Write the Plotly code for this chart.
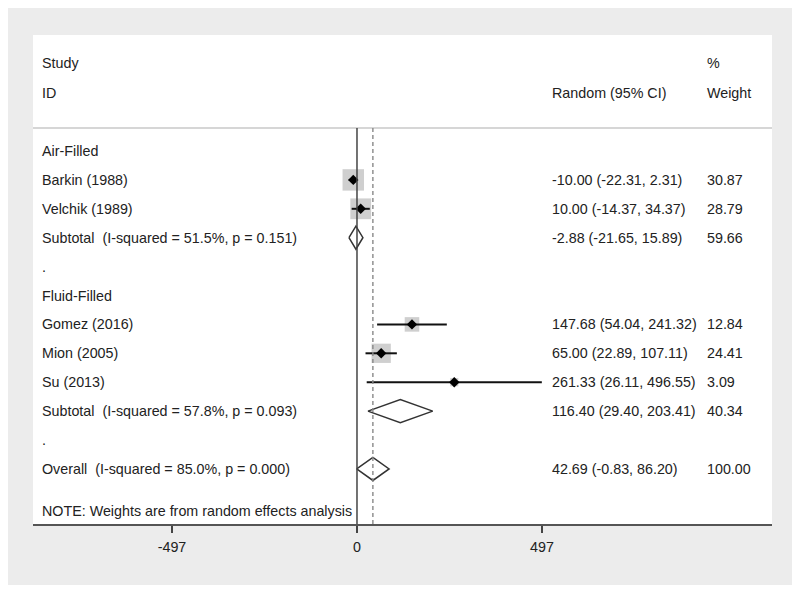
import plotly.graph_objects as go

# ---------------- data ----------------
study_labels = ["Barkin (1988)", "Velchik (1989)", "Gomez (2016)", "Mion (2005)", "Su (2013)"]
study_rows = [1, 2, 6, 7, 8]
study_est = [-10.00, 10.00, 147.68, 65.00, 261.33]
study_lo = [-22.31, -14.37, 54.04, 22.89, 26.11]
study_hi = [2.31, 34.37, 241.32, 107.11, 496.55]
study_weight = [30.87, 28.79, 12.84, 24.41, 3.09]

pooled_labels = ["Subtotal  (I-squared = 51.5%, p = 0.151)",
                 "Subtotal  (I-squared = 57.8%, p = 0.093)",
                 "Overall  (I-squared = 85.0%, p = 0.000)"]
pooled_rows = [3, 9, 11]
pooled_est = [-2.88, 116.40, 42.69]
pooled_lo = [-21.65, 29.40, -0.83]
pooled_hi = [15.89, 203.41, 86.20]
pooled_weight = [59.66, 40.34, 100.00]

group_labels = ["Air-Filled", ".", "Fluid-Filled", "."]
group_rows = [0, 4, 5, 10]

tick_vals = [-497, 0, 497]
tick_text = ["-497", "0", "497"]

overall_est = pooled_est[2]

# ---------------- style ----------------
FONT = "Liberation Sans, Arial, sans-serif"
FS = 14.3
TXT = "#222222"
X_RANGE = [-870.4, 1114.9]
Y_RANGE = [12.9066, -4.0138]
HEADER_LINE_Y = -0.8
DIAMOND_H = 0.4
X_LABEL = 0.0100
X_CI = 0.6995
X_W = 0.9090

fig = go.Figure()

# weight boxes
fig.add_trace(go.Scatter(
    x=study_est, y=study_rows, mode="markers",
    marker=dict(symbol="square", color="#bbbbbb",
                size=[2 + 3.5 * w ** 0.5 for w in study_weight], line=dict(width=0)),
    hoverinfo="skip", showlegend=False))

# CI lines
for e, l, h, r in zip(study_est, study_lo, study_hi, study_rows):
    fig.add_trace(go.Scatter(x=[l, h], y=[r, r], mode="lines",
                             line=dict(color="#111111", width=2),
                             hoverinfo="skip", showlegend=False))

# point estimates
fig.add_trace(go.Scatter(
    x=study_est, y=study_rows, mode="markers",
    marker=dict(symbol="diamond", color="#000000", size=8, line=dict(width=0)),
    hoverinfo="skip", showlegend=False))

# pooled diamonds
for e, l, h, r in zip(pooled_est, pooled_lo, pooled_hi, pooled_rows):
    fig.add_trace(go.Scatter(
        x=[l, e, h, e, l], y=[r, r - DIAMOND_H, r, r + DIAMOND_H, r], mode="lines",
        line=dict(color="#333333", width=1.5),
        hoverinfo="skip", showlegend=False))

# figure is placed at (8,8) in the page; plot area 764-25=739 wide, 516-27=489 tall
shapes = [
    # outer gray frame
    dict(type="rect", xref="paper", yref="paper", x0=-0.0365, x1=1.0284,
         y0=-0.1247, y1=1.06, fillcolor="#ececec", line=dict(width=0), layer="below"),
    # white panel
    dict(type="rect", xref="paper", yref="paper", x0=0, x1=1, y0=0, y1=1,
         fillcolor="#ffffff", line=dict(width=0), layer="below"),
    # header line
    dict(type="line", xref="paper", yref="y", x0=0, x1=1, y0=HEADER_LINE_Y, y1=HEADER_LINE_Y,
         line=dict(color="#c8c8c8", width=1.5)),
    # no effect line
    dict(type="line", xref="x", yref="y", x0=0, x1=0, y0=HEADER_LINE_Y, y1=Y_RANGE[0],
         line=dict(color="#444444", width=1.5)),
    # overall line
    dict(type="line", xref="x", yref="y", x0=overall_est, x1=overall_est,
         y0=HEADER_LINE_Y, y1=Y_RANGE[0],
         line=dict(color="#888888", width=1.4, dash="4px,3px")),
]

ann = []
def txt(x, y, s):
    ann.append(dict(x=x, y=y, xref="paper", yref="y", text=s, showarrow=False,
                    xanchor="left", yanchor="middle",
                    font=dict(family=FONT, size=FS, color=TXT)))

# headers
txt(X_LABEL, -3.04, "Study")
txt(X_LABEL, -2.0, "ID")
txt(X_CI, -2.0, "Random (95% CI)")
txt(X_W, -3.04, "%")
txt(X_W, -2.0, "Weight")

for s, r in zip(group_labels, group_rows):
    txt(X_LABEL, r, s)
for s, r, e, l, h, w in zip(study_labels, study_rows, study_est, study_lo, study_hi, study_weight):
    txt(X_LABEL, r, s)
    txt(X_CI, r, f"{e:.2f} ({l:.2f}, {h:.2f})")
    txt(X_W, r, f"{w:.2f}")
for s, r, e, l, h, w in zip(pooled_labels, pooled_rows, pooled_est, pooled_lo, pooled_hi, pooled_weight):
    txt(X_LABEL, r, s)
    txt(X_CI, r, f"{e:.2f} ({l:.2f}, {h:.2f})")
    txt(X_W, r, f"{w:.2f}")

txt(X_LABEL, 12.46, "NOTE: Weights are from random effects analysis")

fig.update_layout(
    width=792, height=584,
    margin=dict(l=25, r=28, t=27, b=68),
    paper_bgcolor="#ffffff", plot_bgcolor="#ffffff",
    shapes=shapes, annotations=ann,
    xaxis=dict(range=X_RANGE, tickvals=tick_vals, ticktext=tick_text,
               ticks="outside", ticklen=7, tickwidth=1.5, tickcolor="#444444",
               ticklabelstandoff=2,
               showline=True, linecolor="#555555", linewidth=1.5,
               showgrid=False, zeroline=False, fixedrange=True,
               tickfont=dict(family=FONT, size=FS, color=TXT)),
    yaxis=dict(range=Y_RANGE, visible=False, showgrid=False, zeroline=False),
    showlegend=False,
)

fig.write_html("out.html")
